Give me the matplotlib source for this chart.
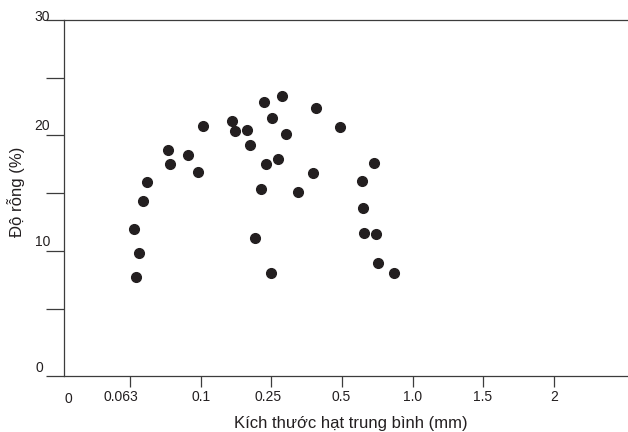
import numpy as np
import matplotlib.pyplot as plt
from matplotlib.transforms import ScaledTranslation

plt.rcParams['font.family'] = ['Liberation Sans', 'DejaVu Sans']

# x = position on the (non-uniform) grain size axis: 1 -> 0.063 mm, 2 -> 0.1 mm, ... 7 -> 2 mm
x_ticks = [1, 2, 3, 4, 5, 6, 7]
x_labels = ['0.063', '0.1', '0.25', '0.5', '1.0', '1.5', '2']
y_ticks = [-0.83, 5, 10, 15, 20, 25, 30]

size_pos = [1.08, 1.13, 1.05, 1.18, 1.24, 1.53, 1.57, 1.82, 1.96, 2.03,
            2.44, 2.48, 2.66, 2.69, 2.90, 3.15, 3.01, 3.20, 2.93, 3.10,
            2.85, 2.77, 3.00, 3.38, 3.59, 3.63, 3.97,
            4.46, 4.29, 4.30, 4.31, 4.48, 4.51, 4.73]
porosity = [7.8, 9.8, 11.9, 14.3, 16.0, 18.75, 17.5, 18.35, 16.8, 20.8,
            21.25, 20.35, 20.5, 19.2, 22.85, 23.4, 21.5, 20.15, 17.55, 17.95,
            15.4, 11.1, 8.1, 15.1, 16.75, 22.35, 20.75,
            17.6, 16.1, 13.75, 11.6, 11.45, 9.0, 8.1]

ink = '#231f20'

fig = plt.figure(figsize=(6.28, 4.32), dpi=100)
ax = fig.add_axes([0.1027, 0.1285, 0.8973, 0.8259])

ax.plot(size_pos, porosity, 'o', color=ink, ms=7.0, mec=ink, ls='none')

ax.set_xlim(0.069, 8.051)
ax.set_ylim(-0.83, 30)

for side in ['top', 'left', 'bottom']:
    ax.spines[side].set_color('#3c3c3c')
    ax.spines[side].set_linewidth(0.9)
ax.spines['right'].set_visible(False)

ax.set_xticks(x_ticks)
ax.set_xticklabels(x_labels)
ax.tick_params(axis='x', direction='out', length=8, width=0.9, color='#3c3c3c',
               labelsize=10, labelcolor=ink, pad=1.5)
ax.set_yticks(y_ticks)
ax.set_yticklabels([''] * len(y_ticks))
ax.tick_params(axis='y', direction='out', length=13, width=0.9, color='#3c3c3c')

# nudge a couple of x labels like in the original
for lbl, dx in zip(ax.get_xticklabels(), [-9, 0, -3, -1, 0, -1, 0]):
    lbl.set_transform(lbl.get_transform() + ScaledTranslation(dx / 100, 0, fig.dpi_scale_trans))

# y labels sit above their ticks
for val, lab, dx, dy in [(-0.83, '0', -21.5, 8.5), (10, '10', -14.5, 9.5),
                         (20, '20', -14.5, 9.5), (30, '30', -14.5, 3)]:
    ax.annotate(lab, xy=(0, val), xycoords=('axes fraction', 'data'),
                xytext=(dx, dy), textcoords='offset pixels',
                ha='right', va='center', fontsize=10, color=ink)
ax.annotate('0', xy=(0, 0), xycoords='axes fraction', xytext=(3.5, -22.5),
            textcoords='offset pixels', ha='center', va='center', fontsize=10, color=ink)

ax.set_xlabel('Kích thước hạt trung bình (mm)', fontsize=12, color=ink)
ax.xaxis.set_label_coords(0.5075, -0.132)
ax.xaxis.label.set_va('center')
ax.set_ylabel('Độ rỗng (%)', fontsize=12, color=ink)
ax.yaxis.set_label_coords(-0.086, 0.517)
ax.yaxis.label.set_va('center')

fig.savefig('out.png', dpi=100)
